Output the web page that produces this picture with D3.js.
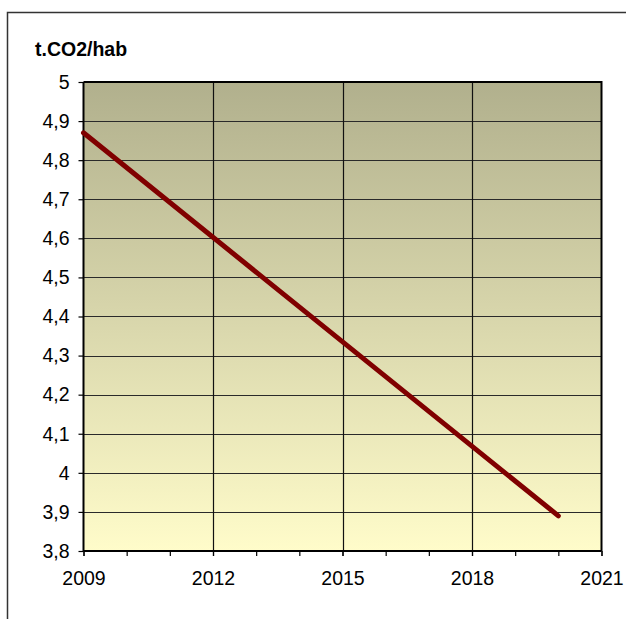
<!DOCTYPE html>
<html>
<head>
<meta charset="utf-8">
<script src="https://cdn.jsdelivr.net/npm/d3@7"></script>
<style>
  body { margin: 0; background: #fff; }
  text { font-family: "Liberation Sans", Arial, sans-serif; fill: #000; }
</style>
</head>
<body>
<div id="chart"></div>
<script>
  // data
  var years = [2009, 2020];
  var values = [4.87, 3.89];
  var yTicks = [3.8, 3.9, 4, 4.1, 4.2, 4.3, 4.4, 4.5, 4.6, 4.7, 4.8, 4.9, 5];
  var xMajor = [2009, 2012, 2015, 2018, 2021];
  var xMinor = d3.range(2009, 2022);
  var unitLabel = "t.CO2/hab";

  var W = 626, H = 619;
  var pLeft = 83.5, pRight = 601.5, pTop = 82, pBottom = 551;

  var svg = d3.select("#chart").append("svg")
      .attr("width", W).attr("height", H);

  // outer frame (only top and left edges visible)
  svg.append("path")
      .attr("d", "M7.5," + H + "V12.5H" + W)
      .attr("fill", "none").attr("stroke", "#333").attr("stroke-width", 1.5);

  var x = d3.scaleLinear().domain([2009, 2021]).range([pLeft, pRight]);
  var y = d3.scaleLinear().domain([3.8, 5]).range([pBottom, pTop]);

  var grad = svg.append("defs").append("linearGradient")
      .attr("id", "bg").attr("x1", 0).attr("y1", 0).attr("x2", 0).attr("y2", 1);
  grad.append("stop").attr("offset", "0%").attr("stop-color", "#b1b08d");
  grad.append("stop").attr("offset", "100%").attr("stop-color", "#fffcca");

  svg.append("rect")
      .attr("x", pLeft).attr("y", pTop)
      .attr("width", pRight - pLeft).attr("height", pBottom - pTop)
      .attr("fill", "url(#bg)");

  // gridlines
  svg.append("g").selectAll("line").data(yTicks.slice(1, -1)).enter().append("line")
      .attr("x1", pLeft).attr("x2", pRight)
      .attr("y1", d => Math.round(y(d)) + 0.5).attr("y2", d => Math.round(y(d)) + 0.5)
      .attr("stroke", "#2a2a2a").attr("stroke-width", 1.2);
  svg.append("g").selectAll("line").data(xMajor.slice(1, -1)).enter().append("line")
      .attr("y1", pTop).attr("y2", pBottom)
      .attr("x1", d => Math.round(x(d)) + 0.5).attr("x2", d => Math.round(x(d)) + 0.5)
      .attr("stroke", "#111").attr("stroke-width", 1.2);

  // top and right border of the plot
  svg.append("path")
      .attr("d", "M" + pLeft + "," + pTop + "H" + pRight + "V" + pBottom)
      .attr("fill", "none").attr("stroke", "#000").attr("stroke-width", 2);

  // y axis
  var yAxis = d3.axisLeft(y).tickValues(yTicks).tickSize(5).tickPadding(9)
      .tickFormat(d => d3.format(".1~f")(d).replace(".", ","));
  var gy = svg.append("g").attr("transform", "translate(" + pLeft + ",0)").call(yAxis);
  gy.select(".domain").attr("stroke", "#000").attr("stroke-width", 2).attr("d", "M0," + pTop + "V" + pBottom);
  gy.selectAll(".tick line").attr("stroke", "#000").attr("stroke-width", 1.2);
  gy.selectAll("text").attr("font-size", 19.5).attr("font-family", "Liberation Sans, Arial, sans-serif");

  // x axis: minor ticks every year, labels every three years
  var gxm = svg.append("g").attr("transform", "translate(0," + pBottom + ")")
      .call(d3.axisBottom(x).tickValues(xMinor).tickSize(5).tickFormat(""));
  gxm.select(".domain").remove();
  gxm.selectAll(".tick line").attr("stroke", "#000").attr("stroke-width", 1.2);

  var gx = svg.append("g").attr("transform", "translate(0," + pBottom + ")")
      .call(d3.axisBottom(x).tickValues(xMajor).tickSize(5).tickPadding(15).tickFormat(d3.format("d")));
  gx.select(".domain").attr("stroke", "#000").attr("stroke-width", 2).attr("d", "M" + pLeft + ",0H" + pRight);
  gx.selectAll(".tick line").attr("stroke", "#000").attr("stroke-width", 1.2);
  gx.selectAll("text").attr("font-size", 19.5).attr("font-family", "Liberation Sans, Arial, sans-serif");

  // series line
  var pts = years.map((yr, i) => [yr, values[i]]);
  svg.append("path")
      .datum(pts)
      .attr("d", d3.line().x(d => x(d[0])).y(d => y(d[1])))
      .attr("fill", "none").attr("stroke", "#800000")
      .attr("stroke-width", 5).attr("stroke-linecap", "round");

  // unit label
  svg.append("text")
      .attr("x", 35).attr("y", 55.5)
      .attr("font-size", 19.5).attr("font-weight", "bold")
      .text(unitLabel);
</script>
</body>
</html>
